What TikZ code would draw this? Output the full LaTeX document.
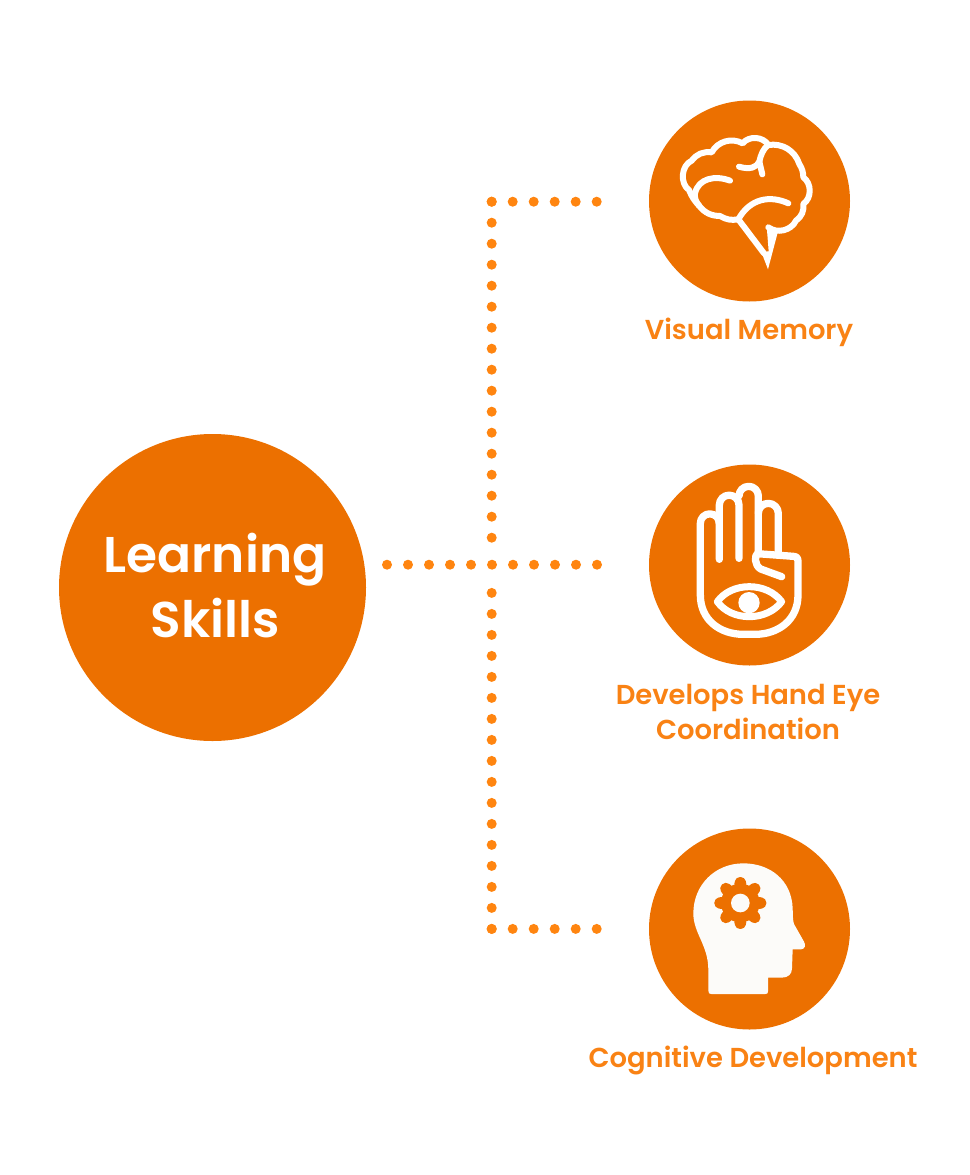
\documentclass[tikz,border=0pt]{standalone}
\usepackage{fontspec}
\usetikzlibrary{calc}
\setmainfont{Poppins}
\newfontfamily\labelfont{Poppins SemiBold}
\definecolor{disc}{HTML}{EC7000}
\definecolor{dots}{HTML}{FF8510}
\definecolor{caption}{HTML}{F98214}
\definecolor{paper}{HTML}{FCFBF9}

\begin{document}
\begin{tikzpicture}[x=1pt,y=-1pt,
    big_node/.style={circle,fill=disc,inner sep=0pt,minimum size=307pt},
    icon_node/.style={circle,fill=disc,inner sep=0pt,minimum size=201pt},
    title_text/.style={text=white,align=center,font=\labelfont\fontsize{50.2}{65}\selectfont},
    cap_text/.style={text=caption,align=center,font=\labelfont\fontsize{27.4}{35}\selectfont},
    dot_line/.style={draw=dots,line width=10pt,line cap=round,dash pattern=on 0pt off 21pt},
    icon_line/.style={draw=white,line width=6pt,line cap=round,line join=round}]

    \useasboundingbox (0,0) rectangle (969,1175);

    \node[big_node] (learning) at (212.5,587.5) {};
    \node[title_text] (learning_text) at (215,586) {Learning\\Skills};

    \node[icon_node] (memory) at (749.5,201) {};
    \node[icon_node] (hand) at (749.5,565) {};
    \node[icon_node] (cognitive) at (749.5,929) {};

    \node[cap_text] (memory_text) at (749,332.5) {Visual Memory};
    \node[cap_text] (hand_text) at (748,712) {Develops Hand Eye\\Coordination};
    \node[cap_text] (cognitive_text) at (753,1060) {Cognitive Development};

    \coordinate (start) at (387,564.7);
    \coordinate (mid_end) at (597.2,564.7);
    \coordinate (top) at (491.7,201.7);
    \coordinate (top_end) at (597.2,201.7);
    \coordinate (up_end) at (491.7,537.9);
    \coordinate (bottom) at (491.7,928.9);
    \coordinate (bottom_end) at (597.2,928.9);
    \coordinate (down_start) at (491.7,592.7);

    \draw[dot_line] (start) -- (mid_end);
    \draw[dot_line] (top) -- (top_end);
    \draw[dot_line] (top) -- (up_end);
    \draw[dot_line] (bottom) -- (bottom_end);
    \draw[dot_line] (bottom) -- (down_start);

    % brain
    \begin{scope}[shift={(640,90)},scale=1/3]
        \draw[icon_line] (295,388) to[bend left=20] (240,378) to[bend left=25] (178,348)
            to[bend left=10] (147,300) to[bend left=60] (155,212) to[bend left=30] (215,187)
            to[bend left=45] (308,160) to[bend left=55] (385,165) to[bend left=40] (478,222)
            to[bend left=15] (490,262) to[bend left=55] (490,342) to[bend left=30] (468,392)
            to[bend left=50] (385,412);
        \draw[icon_line] (270,272) .. controls (225,255) and (175,265) .. (165,310) .. controls (163,325) and (168,335) .. (178,348);
        \draw[icon_line] (297,230) .. controls (330,240) and (350,232) .. (358,215) .. controls (362,195) and (370,175) .. (385,165);
        \draw[icon_line] (358,215) -- (367,253);
        \draw[icon_line] (445,340) .. controls (390,315) and (330,325) .. (295,388);
        \draw[icon_line] (295,388) -- (372,490);
        \fill[white] (380,408) -- (414,424) -- (384,538) -- (364,486) -- (386,484) -- cycle;
    \end{scope}

    % hand
    \begin{scope}[shift={(640,455)},scale=1/3]
        \draw[icon_line,line width=7.3pt] (238,313) -- (238,150) arc[start angle=180,end angle=360,radius=29.5] -- (297,310);
        \draw[icon_line,line width=7.3pt] (297,123) arc[start angle=180,end angle=360,radius=29] -- (355,295);
        \draw[icon_line,line width=7.3pt] (355,175) arc[start angle=180,end angle=360,radius=30] -- (415,295);
        \draw[icon_line,line width=7.3pt] (238,205) arc[start angle=360,end angle=180,radius=28.5] -- (181,420)
            .. controls (181,495) and (240,538) .. (310,538) -- (345,538)
            .. controls (415,538) and (474,495) .. (474,420) -- (474,320)
            .. controls (474,308) and (470,305) .. (460,304) -- (352,296)
            .. controls (344,300) and (342,330) .. (362,342) -- (425,365);
        \draw[icon_line,line width=7pt] (232,440) .. controls (275,380) and (380,380) .. (425,440)
            .. controls (380,500) and (275,500) .. cycle;
        \fill[white] (327,443) circle[radius=32];
    \end{scope}

    % head
    \begin{scope}[shift={(640,820)},scale=1/3]
        \fill[paper] (205,512) .. controls (205,520) and (208,522) .. (214,522) -- (376,522)
            .. controls (382,522) and (384,520) .. (384,514) -- (384,473) -- (425,473)
            .. controls (445,473) and (456,462) .. (456,445) -- (458,388) -- (483,388)
            .. controls (495,388) and (498,375) .. (492,365) -- (462,312)
            .. controls (458,300) and (459,285) .. (458,265)
            .. controls (455,180) and (390,130) .. (310,130)
            .. controls (225,130) and (160,195) .. (160,280)
            .. controls (160,340) and (205,375) .. (205,450) -- cycle;
        \fill[disc] (301,249) circle[radius=58];
        \foreach \a in {0,45,...,315}
            \fill[disc,rounded corners=4pt] ($(301,249)+(\a-24:50)$) -- ($(301,249)+(\a-10:79)$) -- ($(301,249)+(\a+10:79)$) -- ($(301,249)+(\a+24:50)$) -- cycle;
        \fill[paper] (301,249) circle[radius=28];
    \end{scope}
\end{tikzpicture}
\end{document}
